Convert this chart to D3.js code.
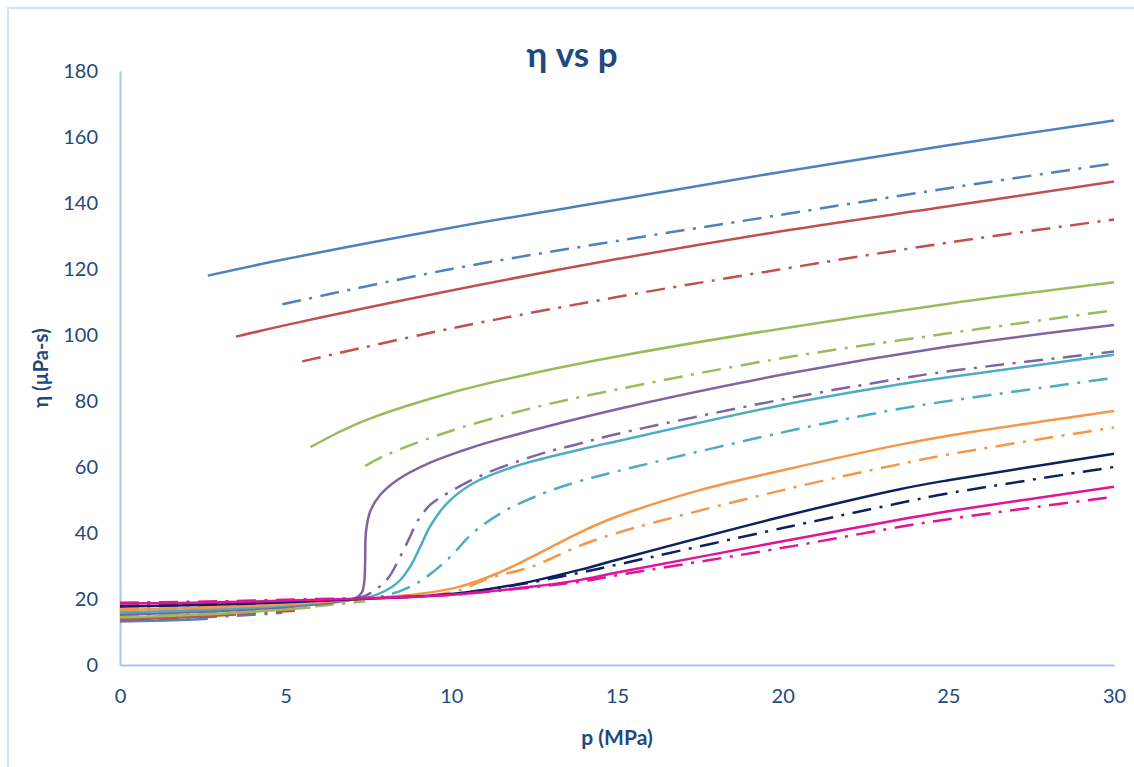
<!DOCTYPE html>
<html>
<head>
<meta charset="utf-8">
<script src="https://cdn.jsdelivr.net/npm/d3@7"></script>
<style>
  body { margin: 0; background: #fff; }
  text { font-family: Lato, "Open Sans", sans-serif; }
</style>
</head>
<body>
<div id="chart"></div>
<script>
// tick values
const xTicks = [0, 5, 10, 15, 20, 25, 30];
const yTicks = [0, 20, 40, 60, 80, 100, 120, 140, 160, 180];

// each series: [p (MPa), eta (µPa-s)], null = break between gas and liquid branch
const blueSolid = [[0,13.2],[1,13.4],[2,13.7],[2.65,14.0], null,
  [2.65,118],[5,123],[10,132.5],[15,141],[20,149.5],[25,157.5],[30,165]];
const blueDash = [[0,13.5],[2,14.2],[4,15.2],[4.9,15.8], null,
  [4.9,109.3],[10,120],[15,128.5],[20,136.5],[25,144.5],[30,152]];
const redSolid = [[0,13.7],[2,14.5],[3.5,15.3], null,
  [3.5,99.5],[5,103],[10,113.5],[15,123],[20,131.5],[25,139],[30,146.5]];
const redDash = [[0,14.0],[3,15.2],[5.5,16.6], null,
  [5.5,92],[10,102],[15,111.5],[20,120],[25,128],[30,135]];
const greenSolid = [[0,14.4],[3,15.5],[5.75,17.4], null,
  [5.75,66],[6.5,70],[7.5,74.5],[10,82.5],[12.5,88.5],[15,93.5],[20,102],[25,109.5],[30,116]];
const greenDash = [[0,14.8],[3,16],[6,17.9],[7.4,19.3], null,
  [7.4,60.3],[8,63.5],[10,71],[12.5,78],[15,83.5],[20,93],[25,100.5],[30,107.5]];
const purpleSolid = [[0,15.2],[3,16.4],[5,17.6],[6.5,19],[7.1,20.2],[7.3,22],[7.37,25],[7.4,32],
  [7.42,40],[7.55,46.5],[7.85,51.5],[8.36,56],[9.36,61.3],[10.35,65],[11.17,67.6],
  [15,77.5],[20,88],[25,96.5],[30,103]];
const purpleDash = [[0,15.5],[3,16.6],[5,17.8],[7,20],[7.45,21.2],[8.05,25.8],[8.45,32.7],[8.75,38.8],
  [8.96,43.3],[9.36,48.5],[9.96,52.5],[11.08,58.2],[12.77,64.2],[13.8,66.9],[15,70],[20,80.5],
  [23.5,86.7],[25,89],[30,95]];
const cyanSolid = [[0,15.9],[3,16.9],[5,18],[7,20],[7.6,20.8],[8.36,24.8],[8.75,29.7],[9.06,35.8],
  [9.36,42],[9.87,49],[10.65,55],[11.86,60],[13.9,65.3],[15,67.8],[20,78.8],[23.5,85],[25,87.2],[30,94]];
const cyanDash = [[0,16.2],[3,17.2],[5,18.2],[7,20],[8,21],[8.96,24.8],[9.87,31.8],[10.65,40],
  [11.56,46.4],[12.77,52],[13.8,55.5],[15,58.7],[20,70.5],[23.5,77.6],[25,80],[30,87]];
const orangeSolid = [[0,16.7],[3,17.5],[5,18.4],[7.3,20],[9,21.5],[10.2,23.6],[11.4,27.8],[12.4,32.6],
  [13.9,40.3],[15,45],[17.5,53],[20,59],[23.5,66.7],[25,69.5],[30,77]];
const orangeDash = [[0,17],[3,17.8],[5,18.6],[7.3,20],[10,22],[11.17,26.4],[12.4,29.7],[13.8,35.8],
  [15,40],[20,53],[23.5,60.8],[25,63.8],[30,72]];
const navySolid = [[0,17.7],[3,18.3],[5,19],[7.3,20],[10,21.5],[12,24.5],[13.9,28.9],[15,31.9],
  [20,45],[23.5,53.2],[25,56],[30,64]];
const navyDash = [[0,17.9],[3,18.5],[5,19.2],[7.3,20.1],[10,21.5],[12,24.3],[13.9,28],[15,30.4],
  [20,41.5],[23.5,49],[25,52],[30,60]];
const magentaSolid = [[0,18.6],[3,19],[6,19.8],[8.5,20.5],[10,21.3],[12.4,23.7],[13.9,25.8],[15,28],
  [20,37.5],[23.5,44],[25,46.6],[30,54]];
const magentaDash = [[0,18.9],[3,19.3],[6,20],[8.5,20.6],[10,21.3],[12.4,23.5],[13.9,25.3],[15,27.2],
  [20,35.5],[23.5,41.8],[25,44.2],[30,51]];

const allSeries = [blueSolid, blueDash, redSolid, redDash, greenSolid, greenDash,
  purpleSolid, purpleDash, cyanSolid, cyanDash, orangeSolid, orangeDash,
  navySolid, navyDash, magentaSolid, magentaDash];

// styles
const colors = ["#4F81BD", "#C0504D", "#9BBB59", "#8064A2", "#4BACC6", "#F79646", "#0E2060", "#E0139A"];
const dashDot = "19,8.5,3,8.5";
const textColor = "#1F497D";
const axisColor = "#A9C5EB";

const W = 1134, H = 767;
const margin = {top: 71, right: 20, bottom: 102, left: 120},
      width = 1114 - margin.left,
      height = 665 - margin.top;

const svg = d3.select("#chart").append("svg")
  .attr("width", W)
  .attr("height", H);

// chart border
svg.append("rect")
  .attr("x", 8).attr("y", 8)
  .attr("width", 1300).attr("height", 1000)
  .attr("fill", "none")
  .attr("stroke", "#D5E2F2")
  .attr("stroke-width", 2);

const g = svg.append("g")
  .attr("transform", "translate(" + margin.left + "," + margin.top + ")");

const xScale = d3.scaleLinear().domain([0, 30]).range([0, width]);
const yScale = d3.scaleLinear().domain([0, 180]).range([height, 0]);

// axes (no tick marks, just labels)
const xAxis = g.append("g")
  .attr("transform", "translate(0," + height + ")")
  .call(d3.axisBottom(xScale).tickValues(xTicks).tickSize(0).tickPadding(34).tickFormat(d3.format("d")));
const yAxis = g.append("g")
  .call(d3.axisLeft(yScale).tickValues(yTicks).tickSize(0).tickPadding(22).tickFormat(d3.format("d")));

[xAxis, yAxis].forEach(a => {
  a.select(".domain").attr("stroke", axisColor).attr("stroke-width", 2);
  a.selectAll("text")
    .attr("fill", textColor)
    .style("font-size", "20px")
    .style("font-family", "Lato, sans-serif");
});
xAxis.selectAll("text").attr("dy", "0.2em");

// series
const line = d3.line()
  .defined(d => d !== null)
  .x(d => xScale(d[0]))
  .y(d => yScale(d[1]))
  .curve(d3.curveCatmullRom.alpha(0.5));

allSeries.forEach((s, i) => {
  g.append("path")
    .datum(s)
    .attr("d", line)
    .attr("fill", "none")
    .attr("stroke", colors[Math.floor(i / 2)])
    .attr("stroke-width", 2.5)
    .attr("stroke-dasharray", i % 2 ? dashDot : null);
});

// title and axis titles
svg.append("text")
  .attr("x", 572)
  .attr("y", 67)
  .attr("text-anchor", "middle")
  .attr("fill", textColor)
  .style("font-size", "35px")
  .style("font-weight", "bold")
  .text("η vs p");

svg.append("text")
  .attr("x", margin.left + width / 2)
  .attr("y", 745)
  .attr("text-anchor", "middle")
  .attr("fill", textColor)
  .style("font-size", "21px")
  .style("font-weight", "bold")
  .text("p (MPa)");

svg.append("text")
  .attr("transform", "translate(48," + (margin.top + height / 2) + ") rotate(-90)")
  .attr("text-anchor", "middle")
  .attr("fill", textColor)
  .style("font-size", "20px")
  .style("font-weight", "bold")
  .text("η (µPa-s)");
</script>
</body>
</html>
